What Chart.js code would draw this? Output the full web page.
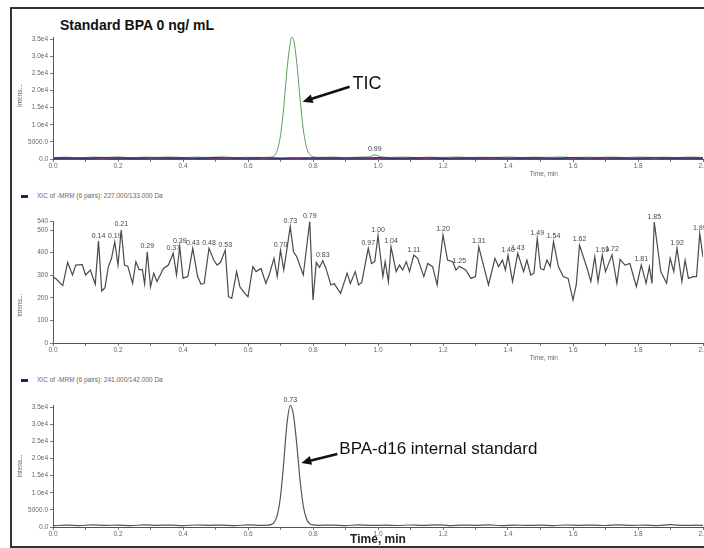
<!DOCTYPE html>
<html>
<head>
<meta charset="utf-8">
<script src="https://cdn.jsdelivr.net/npm/chart.js@4.4.1/dist/chart.umd.min.js"></script>
<style>
html, body { margin: 0; padding: 0; background: #fff; }
body { width: 704px; height: 548px; overflow: hidden; position: relative; font-family: "Liberation Sans", Arial, sans-serif; }
#cadre { position: absolute; left: 10px; top: 7px; width: 740px; height: 541px; border: 2px solid #333; box-sizing: border-box; }
canvas { position: absolute; left: 12px; }
#titre { position: absolute; left: 60px; top: 17px; font-weight: bold; font-size: 14px; line-height: 16px; color: #111; }
.legende { position: absolute; left: 21px; font-size: 6.5px; line-height: 8px; color: #666; white-space: nowrap; }
.legende span { display: inline-block; width: 7px; height: 3px; background: #22225e; margin-right: 9px; vertical-align: middle; }
</style>
</head>
<body>
<div id="cadre"></div>
<div id="titre">Standard BPA 0 ng/ mL</div>
<div class="legende" style="top:192px"><span></span>XIC of -MRM (6 pairs): 227.000/133.000 Da</div>
<div class="legende" style="top:376px"><span></span>XIC of -MRM (6 pairs): 241.000/142.000 Da</div>
<canvas id="tic" width="740" height="150" style="top:30px"></canvas>
<canvas id="xic227" width="740" height="150" style="top:212px"></canvas>
<canvas id="xic241" width="740" height="153" style="top:395px"></canvas>
<script>
// axes
const timeTicks = [0, 0.1, 0.2, 0.3, 0.4, 0.5, 0.6, 0.7, 0.8, 0.9, 1.0, 1.1, 1.2, 1.3, 1.4, 1.5, 1.6, 1.7, 1.8, 1.9, 2.0];
const intensTicks = [0, 5000, 10000, 15000, 20000, 25000, 30000, 35000];
const xic227Ticks = [0, 100, 200, 300, 400, 500, 540];

// TIC (haut)
const ticTimes = [0.00, 0.04, 0.08, 0.12, 0.16, 0.20, 0.24, 0.28, 0.32, 0.36, 0.40, 0.44, 0.48, 0.52, 0.56, 0.60, 0.64,
  0.67, 0.68, 0.69, 0.70, 0.71, 0.72, 0.73, 0.735, 0.74, 0.75, 0.76, 0.77, 0.78, 0.79, 0.80,
  0.82, 0.86, 0.90, 0.94, 0.97, 0.99, 1.01, 1.04,
  1.08, 1.12, 1.16, 1.20, 1.24, 1.28, 1.32, 1.36, 1.40, 1.44, 1.48, 1.52, 1.56, 1.60, 1.64, 1.68, 1.72, 1.76, 1.80, 1.84, 1.88, 1.92, 1.96, 2.00];
const ticValues = [420, 520, 380, 560, 450, 610, 400, 530, 470, 590, 430, 550, 480, 600, 420, 510, 460,
  560, 900, 2500, 6900, 15200, 26100, 33900, 35500, 34900, 28200, 17700, 8700, 3400, 1300, 650,
  480, 560, 420, 540, 600, 1200, 620, 470,
  560, 410, 530, 470, 590, 440, 520, 460, 580, 430, 540, 480, 600, 420, 530, 470, 560, 440, 590, 460, 520, 430, 570, 480];
const ticPeaks = [0.99];

// autres traces MRM sous le TIC
const baseTimes = [0.00, 0.05, 0.10, 0.15, 0.20, 0.25, 0.30, 0.35, 0.40, 0.45, 0.50, 0.55, 0.60, 0.65, 0.70, 0.75, 0.80, 0.85, 0.90, 0.95, 1.00,
  1.05, 1.10, 1.15, 1.20, 1.25, 1.30, 1.35, 1.40, 1.45, 1.50, 1.55, 1.60, 1.65, 1.70, 1.75, 1.80, 1.85, 1.90, 1.95, 2.00];
const navyValues = [260, 310, 220, 350, 280, 240, 330, 270, 300, 210, 360, 290, 250, 320, 230, 340, 280, 310, 260, 300, 350,
  240, 290, 330, 220, 310, 270, 340, 250, 300, 280, 230, 350, 260, 320, 290, 240, 330, 270, 300, 250];
const redValues = [150, 190, 120, 210, 160, 140, 200, 170, 130, 220, 150, 180, 120, 200, 160, 140, 190, 150, 210, 130, 170,
  200, 140, 180, 160, 120, 210, 150, 190, 140, 170, 130, 200, 160, 120, 190, 150, 210, 140, 180, 160];

// XIC 227/133 (milieu)
const midTimes = [0.00, 0.01, 0.03, 0.045, 0.06, 0.07, 0.09, 0.10, 0.115, 0.13, 0.14, 0.15, 0.16, 0.17, 0.18, 0.19, 0.20, 0.21,
  0.22, 0.23, 0.245, 0.255, 0.265, 0.275, 0.282, 0.29, 0.30, 0.31, 0.32, 0.34, 0.355, 0.37, 0.38, 0.39, 0.40, 0.415, 0.43,
  0.445, 0.455, 0.465, 0.48, 0.495, 0.505, 0.515, 0.53, 0.54, 0.55, 0.565, 0.575, 0.59, 0.60, 0.615, 0.625, 0.64, 0.655,
  0.665, 0.68, 0.69, 0.70, 0.71, 0.73, 0.74, 0.75, 0.77, 0.79, 0.80, 0.81, 0.82, 0.83, 0.84, 0.855, 0.865, 0.885, 0.905,
  0.915, 0.93, 0.94, 0.95, 0.97, 0.98, 0.99, 1.00, 1.015, 1.022, 1.032, 1.04, 1.056, 1.066, 1.076, 1.087, 1.097, 1.11,
  1.122, 1.141, 1.153, 1.168, 1.182, 1.20, 1.214, 1.23, 1.24, 1.25, 1.27, 1.286, 1.30, 1.31, 1.34, 1.36, 1.371, 1.383,
  1.392, 1.40, 1.414, 1.43, 1.448, 1.458, 1.47, 1.48, 1.49, 1.50, 1.51, 1.52, 1.53, 1.54, 1.555, 1.57, 1.585, 1.60, 1.61,
  1.62, 1.645, 1.655, 1.667, 1.677, 1.69, 1.70, 1.72, 1.735, 1.745, 1.76, 1.775, 1.795, 1.81, 1.825, 1.835, 1.843, 1.85,
  1.87, 1.888, 1.899, 1.91, 1.92, 1.935, 1.945, 1.955, 1.97, 1.98, 1.99, 2.00];
const midIntensity = [293, 283, 254, 357, 301, 345, 347, 301, 323, 260, 451, 230, 245, 336, 375, 448, 345, 500,
  345, 340, 264, 360, 325, 325, 261, 404, 249, 309, 272, 330, 345, 397, 301, 426, 287, 294, 419,
  294, 261, 263, 419, 366, 345, 356, 411, 205, 198, 316, 249, 220, 205, 338, 316, 330, 264,
  301, 375, 294, 411, 323, 515, 404, 382, 301, 538, 190, 357, 334, 364, 330, 257, 263, 220, 309,
  263, 316, 257, 268, 419, 352, 360, 475, 294, 360, 272, 426, 316, 345, 323, 360, 316, 389,
  375, 294, 352, 338, 257, 478, 367, 360, 323, 340, 323, 286, 294, 426, 257, 375, 338, 367,
  323, 389, 272, 397, 316, 367, 301, 309, 463, 330, 323, 367, 338, 448, 338, 294, 286, 190, 257,
  434, 323, 272, 382, 272, 389, 316, 390, 264, 370, 345, 352, 249, 345, 264, 338, 264, 535,
  316, 264, 375, 316, 419, 272, 367, 286, 294, 294, 485, 380];
const midPeaks = [0.14, 0.19, 0.21, 0.29, 0.37, 0.39, 0.43, 0.48, 0.53, 0.70, 0.73, 0.79, 0.83, 0.97, 1.00, 1.04, 1.11,
  1.20, 1.25, 1.31, 1.40, 1.43, 1.49, 1.54, 1.62, 1.69, 1.72, 1.81, 1.85, 1.92, 1.99];

// XIC 241/142, BPA-d16 (bas)
const botTimes = [0.00, 0.04, 0.08, 0.12, 0.16, 0.20, 0.24, 0.28, 0.32, 0.36, 0.40, 0.44, 0.48, 0.52, 0.56, 0.60, 0.64,
  0.66, 0.67, 0.68, 0.69, 0.70, 0.71, 0.72, 0.73, 0.74, 0.75, 0.76, 0.77, 0.78, 0.79, 0.80, 0.82,
  0.86, 0.90, 0.94, 0.98, 1.02, 1.06, 1.10, 1.14, 1.18, 1.22, 1.26, 1.30, 1.34, 1.38, 1.42, 1.46, 1.50, 1.54, 1.58, 1.62,
  1.66, 1.70, 1.74, 1.78, 1.82, 1.86, 1.90, 1.94, 1.98, 2.00];
const botValues = [380, 520, 430, 600, 470, 550, 400, 620, 480, 560, 430, 590, 500, 540, 420, 600, 470,
  520, 700, 1300, 3400, 8900, 18900, 30200, 35500, 32600, 24200, 13800, 6200, 2400, 1000, 600, 480,
  560, 420, 610, 470, 530, 440, 580, 460, 620, 430, 550, 490, 600, 410, 570, 460, 530, 420, 590, 480,
  560, 440, 620, 470, 540, 430, 700, 450, 520, 480];
const botPeaks = [0.73];

const POLICE = '"Liberation Sans", Arial, sans-serif';

function points(times, values) {
    return times.map((t, i) => ({ x: t, y: values[i] }));
}

function formatIntens(v) {
    if (v === 0) return '0.0';
    if (v === 5000) return '5000.0';
    return (v / 10000).toFixed(1) + 'e4';
}

// étiquettes des pics, flèches, titres d'axes
const notesPlugin = {
    id: 'notes',
    afterDatasetsDraw(chart, args, opts) {
        const ctx = chart.ctx;
        const a = chart.chartArea;
        const xs = chart.scales.x, ys = chart.scales.y;
        ctx.save();

        if (opts.peaks) {
            const meta = chart.getDatasetMeta(opts.peakSet);
            const pts = chart.data.datasets[opts.peakSet].data;
            ctx.font = '7px ' + POLICE;
            ctx.fillStyle = '#444';
            ctx.textAlign = 'center';
            ctx.textBaseline = 'bottom';
            opts.peaks.forEach(t => {
                const i = pts.findIndex(p => Math.abs(p.x - t) < 1e-9);
                if (i < 0) return;
                const el = meta.data[i];
                ctx.fillText(t.toFixed(2), el.x, el.y - 2);
            });
        }

        if (opts.arrow) {
            const ar = opts.arrow;
            const tx = xs.getPixelForValue(ar.t), ty = ys.getPixelForValue(ar.v);
            const sx = tx + ar.dx, sy = ty + ar.dy;
            const ang = Math.atan2(ty - sy, tx - sx);
            const head = 10, half = 4.5;
            const c = Math.cos(ang), s = Math.sin(ang);
            ctx.strokeStyle = '#111';
            ctx.lineWidth = 2.6;
            ctx.beginPath();
            ctx.moveTo(sx, sy);
            ctx.lineTo(tx - c * head * 0.8, ty - s * head * 0.8);
            ctx.stroke();
            ctx.fillStyle = '#111';
            ctx.beginPath();
            ctx.moveTo(tx, ty);
            ctx.lineTo(tx - c * head + s * half, ty - s * head - c * half);
            ctx.lineTo(tx - c * head - s * half, ty - s * head + c * half);
            ctx.closePath();
            ctx.fill();
            ctx.font = ar.font;
            ctx.textAlign = 'left';
            ctx.textBaseline = 'middle';
            ctx.fillText(ar.text, sx + ar.ox, sy + ar.oy);
        }

        if (opts.time) {
            ctx.font = opts.time.font;
            ctx.fillStyle = opts.time.color;
            ctx.textAlign = 'center';
            ctx.textBaseline = 'middle';
            ctx.fillText('Time, min', a.left + opts.time.frac * (a.right - a.left), a.bottom + opts.time.dy);
        }

        if (opts.yTitle) {
            ctx.translate(a.left - 33, a.top + opts.yTitle * (a.bottom - a.top));
            ctx.rotate(-Math.PI / 2);
            ctx.font = '6.5px ' + POLICE;
            ctx.fillStyle = '#666';
            ctx.textAlign = 'center';
            ctx.textBaseline = 'middle';
            ctx.fillText('Intens...', 0, 0);
        }
        ctx.restore();
    }
};

function panelOptions(o) {
    const axisGrid = { drawOnChartArea: false, drawTicks: true, tickLength: 3, color: '#777', lineWidth: 1 };
    return {
        responsive: false,
        animation: false,
        devicePixelRatio: 1,
        layout: { padding: { top: o.padTop, right: 49, left: 0, bottom: 0 } },
        plugins: { legend: { display: false }, tooltip: { enabled: false }, notes: o.notes },
        scales: {
            x: {
                type: 'linear', min: 0, max: 2,
                afterFit: s => { s.height = o.xHeight; },
                afterBuildTicks: s => { s.ticks = timeTicks.map(v => ({ value: v })); },
                grid: axisGrid,
                border: { color: '#555', width: 1 },
                ticks: {
                    font: { size: 6.5, family: POLICE }, color: '#666', padding: 0, maxRotation: 0, autoSkip: false,
                    callback: v => (Math.round(v * 10) % 2 === 0 ? v.toFixed(1) : '')
                }
            },
            y: {
                min: 0, max: o.yMax,
                afterFit: s => { s.width = 41; },
                afterBuildTicks: s => { s.ticks = o.yTicks.map(v => ({ value: v })); },
                grid: axisGrid,
                border: { color: '#555', width: 1 },
                ticks: { font: { size: 6.5, family: POLICE }, color: '#666', padding: 2, callback: o.fmt }
            }
        }
    };
}

function trace(label, data, color, width, smooth) {
    return {
        label, data,
        borderColor: color, borderWidth: width,
        pointRadius: 0, fill: false,
        tension: 0,
        cubicInterpolationMode: smooth ? 'monotone' : 'default'
    };
}

new Chart(document.getElementById('tic'), {
    type: 'line',
    data: {
        datasets: [
            trace('241.000/142.000', points(baseTimes, navyValues), '#2d2d6e', 1.4, true),
            trace('227.000/133.000', points(baseTimes, redValues), '#b2407a', 1, true),
            trace('TIC', points(ticTimes, ticValues), '#5a9e5a', 1, true)
        ]
    },
    options: panelOptions({
        padTop: 7, xHeight: 21, yMax: 35600, yTicks: intensTicks, fmt: formatIntens,
        notes: {
            peaks: ticPeaks, peakSet: 2,
            arrow: { t: 0.768, v: 16700, dx: 47, dy: -15, text: 'TIC', font: '18px ' + POLICE, ox: 3, oy: -3 },
            time: { frac: 0.755, dy: 15, font: '6.5px ' + POLICE, color: '#666' },
            yTitle: 0.48
        }
    }),
    plugins: [notesPlugin]
});

new Chart(document.getElementById('xic227'), {
    type: 'line',
    data: {
        datasets: [trace('XIC of -MRM (6 pairs): 227.000/133.000 Da', points(midTimes, midIntensity), '#4a4a4a', 1.2, false)]
    },
    options: panelOptions({
        padTop: 9, xHeight: 19, yMax: 540, yTicks: xic227Ticks, fmt: v => String(v),
        notes: {
            peaks: midPeaks, peakSet: 0,
            time: { frac: 0.755, dy: 15, font: '6.5px ' + POLICE, color: '#666' },
            yTitle: 0.69
        }
    }),
    plugins: [notesPlugin]
});

new Chart(document.getElementById('xic241'), {
    type: 'line',
    data: {
        datasets: [trace('XIC of -MRM (6 pairs): 241.000/142.000 Da', points(botTimes, botValues), '#555', 1.2, true)]
    },
    options: panelOptions({
        padTop: 10, xHeight: 21, yMax: 35600, yTicks: intensTicks, fmt: formatIntens,
        notes: {
            peaks: botPeaks, peakSet: 0,
            arrow: { t: 0.764, v: 18700, dx: 36, dy: -9, text: 'BPA-d16 internal standard', font: '17px ' + POLICE, ox: 2, oy: -5 },
            time: { frac: 0.5, dy: 13, font: 'bold 12px ' + POLICE, color: '#222' },
            yTitle: 0.5
        }
    }),
    plugins: [notesPlugin]
});
</script>
</body>
</html>
